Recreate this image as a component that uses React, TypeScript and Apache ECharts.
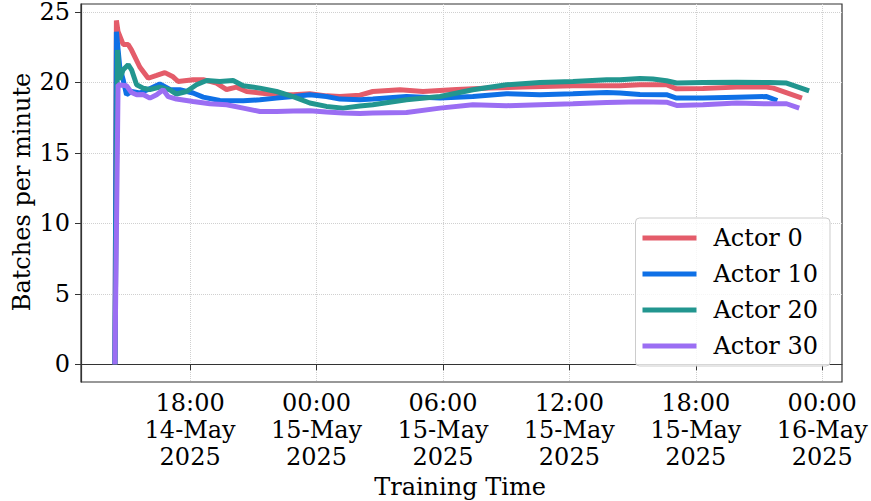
import React, { useEffect, useRef } from "react";
import * as echarts from "echarts";

// hours since 14-May-2025 00:00
const xTickHours = [18, 24, 30, 36, 42, 48];
const yTickValues = [0, 5, 10, 15, 20, 25];
const seriesNames = ["Actor 0", "Actor 10", "Actor 20", "Actor 30"];
const seriesColors = ["#e45c6a", "#0f70e6", "#22968f", "#9b6ef3"];

const actor0Hours = [14.43, 14.5, 14.58, 14.82, 15.06, 15.22, 15.61, 16.01, 16.41, 16.8, 17.19, 17.43, 18.14, 18.62, 19.25, 19.73, 20.2, 20.68, 21.31, 22.1, 22.89, 23.68, 24.47, 25.11, 26.06, 26.67, 27.96, 29.05, 30.65, 32.23, 33.79, 36.17, 38.4, 39.35, 40.61, 41.09, 42.34, 43.94, 45.36, 45.68, 47.04];
const actor0Values = [0, 24.4, 23.6, 22.7, 22.7, 22.3, 21.1, 20.3, 20.5, 20.7, 20.4, 20.07, 20.2, 20.2, 19.95, 19.5, 19.67, 19.36, 19.25, 19.13, 19.13, 19.2, 19.05, 19.0, 19.1, 19.36, 19.48, 19.36, 19.5, 19.6, 19.67, 19.77, 19.77, 19.84, 19.84, 19.55, 19.57, 19.67, 19.67, 19.6, 18.89];

const actor10Hours = [14.43, 14.5, 14.66, 14.82, 14.98, 15.22, 15.61, 16.01, 16.56, 17.04, 17.51, 18.14, 18.62, 19.41, 20.52, 21.31, 22.1, 22.89, 23.68, 24.47, 25.11, 26.06, 26.67, 28.27, 29.86, 31.42, 33.02, 34.6, 36.17, 37.77, 38.4, 39.35, 40.61, 41.09, 42.34, 43.94, 45.36, 45.87];
const actor10Values = [0, 23.6, 21.1, 20.2, 19.13, 19.36, 19.25, 19.5, 19.9, 19.5, 19.48, 19.25, 18.96, 18.72, 18.7, 18.77, 18.89, 19.0, 19.13, 19.0, 18.82, 18.77, 18.82, 19.0, 18.9, 19.0, 19.2, 19.13, 19.2, 19.29, 19.25, 19.15, 19.13, 18.89, 18.89, 18.96, 19.0, 18.72];

const actor20Hours = [14.43, 14.55, 14.66, 14.82, 15.06, 15.22, 15.46, 15.77, 16.09, 16.56, 17.04, 17.35, 17.83, 18.3, 18.78, 19.41, 20.04, 20.52, 21.31, 22.1, 22.89, 23.68, 24.47, 25.26, 26.06, 26.67, 28.27, 29.86, 31.42, 33.02, 34.6, 36.17, 37.77, 38.4, 39.35, 39.96, 40.61, 41.09, 42.34, 43.94, 45.52, 46.31, 47.38];
const actor20Values = [0, 22.3, 20.2, 20.9, 21.26, 20.9, 19.84, 19.6, 19.5, 19.67, 19.48, 19.18, 19.36, 19.84, 20.14, 20.07, 20.14, 19.77, 19.6, 19.36, 19.0, 18.54, 18.3, 18.18, 18.33, 18.42, 18.77, 19.0, 19.48, 19.84, 20.0, 20.07, 20.19, 20.2, 20.28, 20.24, 20.12, 19.96, 20.0, 20.02, 20.0, 19.96, 19.41];

const actor30Hours = [14.43, 14.58, 14.98, 15.22, 15.46, 15.77, 16.09, 16.41, 16.72, 16.96, 17.35, 18.14, 18.94, 19.73, 20.52, 21.31, 22.1, 22.89, 23.68, 24.47, 25.26, 26.06, 26.67, 28.27, 29.86, 31.42, 33.02, 34.6, 36.17, 37.77, 39.35, 40.61, 41.09, 42.34, 43.94, 45.36, 46.31, 46.91];
const actor30Values = [0, 19.84, 19.77, 19.29, 19.13, 19.15, 18.89, 19.13, 19.48, 18.99, 18.82, 18.65, 18.49, 18.42, 18.18, 17.94, 17.94, 17.97, 18.0, 17.9, 17.83, 17.8, 17.83, 17.87, 18.18, 18.42, 18.35, 18.42, 18.49, 18.58, 18.63, 18.6, 18.37, 18.42, 18.54, 18.49, 18.49, 18.18];

const seriesHours = [actor0Hours, actor10Hours, actor20Hours, actor30Hours];
const seriesValues = [actor0Values, actor10Values, actor20Values, actor30Values];

const FONT = "DejaVu Serif";
const FS = 24;

function fmtHour(h: number): string {
  const day = 14 + Math.floor(h / 24);
  const hh = Math.round(h % 24);
  return `${String(hh).padStart(2, "0")}:00\n${day}-May\n2025`;
}

export default function App() {
  const ref = useRef<HTMLDivElement>(null);
  useEffect(() => {
    if (!ref.current) return;
    const chart = echarts.init(ref.current, undefined, { renderer: "svg" });
    const series = seriesNames.map((name, i) => ({
      name,
      type: "line",
      data: seriesHours[i].map((h, j) => [h, seriesValues[i][j]]),
      showSymbol: false,
      symbol: "none",
      lineStyle: { width: 5, color: seriesColors[i] },
      itemStyle: { color: seriesColors[i] },
      z: 2 + i,
    }));
    chart.setOption({
      animation: false,
      textStyle: { fontFamily: FONT },
      grid: {
        left: 81,
        right: 29,
        top: 4,
        bottom: 119,
        show: true,
        borderColor: "#333",
        borderWidth: 1.2,
        containLabel: false,
      },
      xAxis: {
        type: "value",
        min: 12.82,
        max: 48.94,
        axisLine: { show: true, lineStyle: { color: "#333", width: 1.2 } },
        axisTick: { show: true, length: 6, customValues: xTickHours, lineStyle: { color: "#333" } },
        axisLabel: {
          customValues: xTickHours,
          formatter: (v: number) => fmtHour(v),
          fontFamily: FONT,
          fontSize: FS,
          color: "#000",
          lineHeight: 27,
          margin: 7,
        },
        splitLine: { show: true, lineStyle: { color: "#d0d0d0", type: "dotted", width: 1 } },
      },
      yAxis: {
        type: "value",
        min: -1.26,
        max: 25.57,
        axisLine: { show: true, lineStyle: { color: "#333", width: 1.2 } },
        axisTick: { show: true, length: 6, customValues: yTickValues, lineStyle: { color: "#333" } },
        axisLabel: {
          customValues: yTickValues,
          formatter: (v: number) => String(v),
          fontFamily: FONT,
          fontSize: FS,
          lineHeight: 20,
          color: "#000",
          margin: 11,
        },
        splitLine: { show: true, lineStyle: { color: "#d0d0d0", type: "dotted", width: 1 } },
      },
      legend: {
        data: seriesNames,
        orient: "vertical",
        right: 41,
        top: 218,
        icon: "rect",
        itemWidth: 54,
        itemHeight: 5,
        itemGap: 12,
        padding: [8, 12, 8, 7],
        borderColor: "#ccc",
        borderWidth: 1,
        borderRadius: 4,
        backgroundColor: "rgba(255,255,255,0.8)",
        textStyle: { fontFamily: FONT, fontSize: FS, color: "#000", padding: [0, 0, 0, 12] },
      },
      graphic: [
        {
          type: "text",
          x: 460,
          y: 487,
          style: {
            text: "Training Time",
            fontFamily: FONT,
            fontSize: FS,
            fill: "#000",
            textAlign: "center",
            textVerticalAlign: "middle",
          },
        },
        {
          type: "text",
          x: 22,
          y: 192,
          rotation: Math.PI / 2,
          style: {
            text: "Batches per minute",
            fontFamily: FONT,
            fontSize: FS,
            fill: "#000",
            textAlign: "center",
            textVerticalAlign: "middle",
          },
        },
      ],
      series,
    });
    return () => chart.dispose();
  }, []);
  return (
    <div
      ref={ref}
      style={{ position: "fixed", left: 0, top: 0, width: 871, height: 501, background: "#fff" }}
    />
  );
}
